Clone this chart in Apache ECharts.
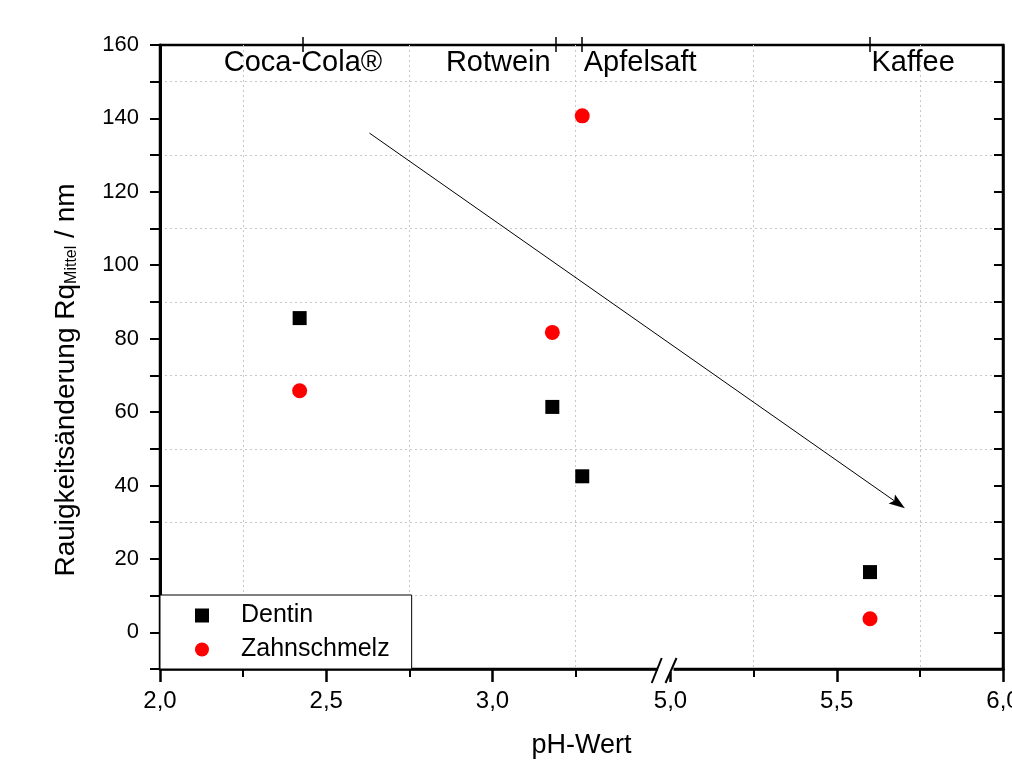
<!DOCTYPE html>
<html><head><meta charset="utf-8">
<script src="https://cdn.jsdelivr.net/npm/echarts@6/dist/echarts.min.js"></script>
<style>html,body{margin:0;padding:0;background:#fff}#c{width:1012px;height:765px}</style>
</head><body><div id="c"></div>
<script>
// ---- data ----
const drinks = ['Coca-Cola®', 'Rotwein', 'Apfelsaft', 'Kaffee'];
const drinkTickPH = [2.43, 3.19, 3.27, 5.60];
const dentinPH = [2.42, 3.18, 3.27, 5.60];
const dentinRq = [85.6, 61.4, 42.5, 16.4];
const schmelzPH = [2.42, 3.18, 3.27, 5.60];
const schmelzRq = [65.8, 81.7, 140.7, 3.7];
const trendStart = [2.63, 136];
const trendEnd = [5.705, 33.8];
const xBreak = [3.5, 5.0];
const xTickValues = [2.0, 2.5, 3.0, 5.0, 5.5, 6.0];
const xMinorValues = [2.25, 2.75, 3.25, 5.25, 5.75];
const yTickValues = [0, 20, 40, 60, 80, 100, 120, 140, 160];

const FONT = '"Liberation Sans", Arial, sans-serif';
const chart = echarts.init(document.getElementById('c'));

const ctx = document.createElement('canvas').getContext('2d');
const topFont = 29;
ctx.font = topFont + 'px "Liberation Sans"';
function tw(s) { return ctx.measureText(s).width; }
// 'c' centred on tick, 'l' text left of tick, 'r' text right of tick
const topAlign = ['c', 'l', 'r', 'r'];

const rich = {};
drinks.forEach((d, i) => {
  const w = tw(d);
  let pad = [0, 0, 0, 0];
  if (topAlign[i] === 'l') pad = [0, w + 10, 0, 0];
  if (topAlign[i] === 'r') pad = [0, 0, 0, w + 3];
  rich['t' + i] = { fontSize: topFont, fontFamily: FONT, color: '#000', padding: pad };
});

const breakCfg = [{ start: xBreak[0], end: xBreak[1], gap: '1.4%' }];
const gridLine = { color: '#c8c8c8', width: 1, type: [2, 3] };
const noBreakArea = { show: false, expandOnClick: false };

function fmtX(v) { return (Math.round(v * 10) / 10).toFixed(1).replace('.', ','); }
function fmtY(v) {
  for (const t of yTickValues) if (Math.abs(t - v) < 1e-6) return String(t);
  return '';
}
function topLabel(v) {
  for (let i = 0; i < drinkTickPH.length; i++) if (Math.abs(drinkTickPH[i] - v) < 1e-6) return '{t' + i + '|' + drinks[i] + '}';
  return '';
}
function xBase(extra) {
  return Object.assign({
    type: 'value', min: 2, max: 6,
    breaks: breakCfg, breakArea: noBreakArea,
    breakLabelLayout: { moveOverlap: false },
    splitLine: { show: false }
  }, extra);
}

const option = {
  animation: false,
  backgroundColor: '#fff',
  grid: {
    left: 160, right: 9, top: 45, bottom: 96, containLabel: false, outerBoundsMode: 'none',
    show: true, borderColor: '#000', borderWidth: 2.5, backgroundColor: 'rgba(0,0,0,0)'
  },
  legend: {
    orient: 'vertical', left: 160, top: 595,
    itemWidth: 14, itemHeight: 14, itemGap: 9,
    padding: [8, 22, 7, 35],
    borderColor: '#000', borderWidth: 1, backgroundColor: '#fff',
    textStyle: { fontSize: 25, fontFamily: FONT, color: '#000', padding: [0, 0, 0, 27] },
    data: [{ name: 'Dentin', icon: 'rect' }, { name: 'Zahnschmelz', icon: 'circle' }]
  },
  xAxis: [
    xBase({
      position: 'bottom',
      name: 'pH-Wert', nameLocation: 'middle', nameGap: 63,
      nameTextStyle: { fontSize: 27, fontFamily: FONT, color: '#000' },
      axisLine: { onZero: false, lineStyle: { color: '#000', width: 2.5 } },
      axisTick: { inside: false, length: 13, customValues: xTickValues, lineStyle: { color: '#000', width: 2.5 } },
      axisLabel: { fontSize: 24, fontFamily: FONT, color: '#000', margin: 20, customValues: xTickValues, formatter: fmtX }
    }),
    xBase({
      position: 'bottom',
      axisLine: { show: false, onZero: false },
      axisTick: { inside: false, length: 8, customValues: xMinorValues, lineStyle: { color: '#000', width: 2 } },
      axisLabel: { show: false },
      splitLine: { show: true, lineStyle: gridLine }
    }),
    xBase({
      position: 'top',
      axisLine: { show: false, onZero: false },
      axisTick: { inside: false, length: 8, customValues: drinkTickPH, lineStyle: { color: '#000', width: 1.5 } },
      axisLabel: { show: false }
    }),
    xBase({
      position: 'top',
      axisLine: { show: false, onZero: false },
      axisTick: { inside: true, length: 7, customValues: drinkTickPH, lineStyle: { color: '#000', width: 1.5 } },
      axisLabel: { show: true, inside: true, margin: 3, customValues: drinkTickPH, formatter: topLabel, rich: rich, color: '#000' }
    })
  ],
  yAxis: [
    {
      type: 'value', position: 'left', min: -10, max: 160, interval: 10,
      name: 'Rauigkeitsänderung Rq{s|Mittel} / nm', nameLocation: 'middle', nameGap: 80, nameRotate: 90,
      nameTextStyle: {
        fontSize: 28, fontFamily: FONT, color: '#000', padding: [0, 46, 0, 0],
        rich: { s: { fontSize: 16, fontFamily: FONT, color: '#000', verticalAlign: 'bottom', padding: [10, 0, 0, 0] } }
      },
      axisLine: { onZero: false, lineStyle: { color: '#000', width: 3 } },
      axisTick: { inside: false, length: 10, lineStyle: { color: '#000', width: 2 } },
      axisLabel: { fontSize: 22, fontFamily: FONT, color: '#000', margin: 21, formatter: fmtY },
      splitLine: { show: true, lineStyle: Object.assign({}, gridLine, { color: ['#c8c8c8', 'rgba(0,0,0,0)'] }) }
    },
    {
      type: 'value', position: 'right', min: -10, max: 160, interval: 10,
      axisLine: { onZero: false, lineStyle: { color: '#000', width: 2.5 } },
      axisTick: { inside: true, length: 9, lineStyle: { color: '#000', width: 2 } },
      axisLabel: { show: false },
      splitLine: { show: false }
    }
  ],
  series: [
    {
      name: 'Dentin', type: 'scatter', symbol: 'rect', symbolSize: 14,
      itemStyle: { color: '#000', opacity: 1 },
      data: dentinPH.map((x, i) => [x, dentinRq[i]])
    },
    {
      name: 'Zahnschmelz', type: 'scatter', symbol: 'circle', symbolSize: 15,
      itemStyle: { color: '#ff0000', opacity: 1 },
      data: schmelzPH.map((x, i) => [x, schmelzRq[i]])
    },
    {
      name: 'Trend', type: 'custom', silent: true, z: 5,
      encode: { x: [0, 2], y: [1, 3] },
      data: [[trendStart[0], trendStart[1], trendEnd[0], trendEnd[1]]],
      renderItem: function (params, api) {
        const a = api.coord([api.value(0), api.value(1)]);
        const b = api.coord([api.value(2), api.value(3)]);
        const dx = b[0] - a[0], dy = b[1] - a[1];
        const L = Math.sqrt(dx * dx + dy * dy);
        const ux = dx / L, uy = dy / L, nx = -uy, ny = ux;
        const len = 16, hw = 5.5, notch = 3;
        const base = [b[0] - ux * len, b[1] - uy * len];
        const mid = [b[0] - ux * (len - notch), b[1] - uy * (len - notch)];
        return {
          type: 'group',
          children: [
            { type: 'line', shape: { x1: a[0], y1: a[1], x2: mid[0], y2: mid[1] }, style: { stroke: '#000', lineWidth: 1 } },
            { type: 'polygon', shape: { points: [b, [base[0] + nx * hw, base[1] + ny * hw], mid, [base[0] - nx * hw, base[1] - ny * hw]] }, style: { fill: '#000' } }
          ]
        };
      }
    }
  ]
};
chart.setOption(option);

// break marks "//" on the bottom axis
const bx1 = chart.convertToPixel({ xAxisIndex: 0 }, xBreak[0]);
const bx2 = chart.convertToPixel({ xAxisIndex: 0 }, xBreak[1]);
const by = chart.convertToPixel({ yAxisIndex: 0 }, -10);
chart.setOption({
  graphic: [
    { type: 'rect', zlevel: 1, z: 100, shape: { x: bx1 - 1, y: by - 3, width: bx2 - bx1 + 4, height: 6 }, style: { fill: '#fff' } },
    { type: 'line', zlevel: 1, z: 101, shape: { x1: bx1 - 7, y1: by + 14, x2: bx1 + 3, y2: by - 11 }, style: { stroke: '#000', lineWidth: 2 } },
    { type: 'line', zlevel: 1, z: 101, shape: { x1: bx2 - 5, y1: by + 14, x2: bx2 + 6, y2: by - 11 }, style: { stroke: '#000', lineWidth: 2 } }
  ]
});
</script></body></html>
